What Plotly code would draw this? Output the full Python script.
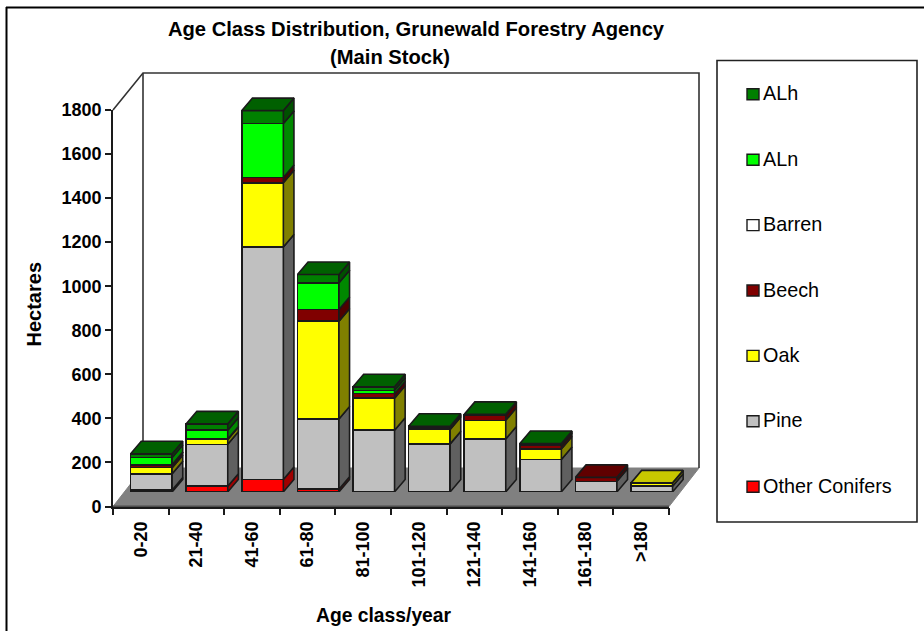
import plotly.graph_objects as go

W, H = 924, 631
# data
categories = ["0-20", "21-40", "41-60", "61-80", "81-100", "101-120", "121-140", "141-160", "161-180", ">180"]
other_conifers = [8, 26, 56, 12, 0, 0, 0, 0, 0, 0]
pine = [74, 190, 1056, 319, 280, 218, 240, 147, 48, 26]
oak = [28, 22, 291, 444, 145, 65, 85, 48, 0, 15]
beech = [12, 2, 24, 53, 21, 5, 24, 15, 18, 0]
barren = [2, 0, 0, 0, 0, 0, 0, 0, 0, 0]
aln = [32, 40, 245, 121, 15, 3, 0, 3, 0, 0]
alh = [17, 29, 59, 38, 16, 7, 3, 7, 0, 0]
y_ticks = [0, 200, 400, 600, 800, 1000, 1200, 1400, 1600, 1800]

series = [
    ("Other Conifers", other_conifers, "#ff0000", "#a00000", "#c00000"),
    ("Pine", pine, "#c0c0c0", "#606060", "#909090"),
    ("Oak", oak, "#ffff00", "#808000", "#c8c800"),
    ("Beech", beech, "#800000", "#500000", "#600000"),
    ("Barren", barren, "#ffffff", "#808080", "#c0c0c0"),
    ("ALn", aln, "#00ff00", "#008800", "#00c000"),
    ("ALh", alh, "#008000", "#005000", "#006000"),
]
legend_order = ["ALh", "ALn", "Barren", "Beech", "Oak", "Pine", "Other Conifers"]

# pixel geometry of the frame
AX_L, AX_R, AX_B, AX_T = 113, 669, 506.5, 110
PX_PER_CAT = (AX_R - AX_L) / 10
PX_PER_UNIT = (AX_B - AX_T) / 1800
SHIFT_X, SHIFT_Y = 10.6, 14.6       # bars stand this far back on the floor
BAR_W = 41.5 / PX_PER_CAT
BAR_DX, BAR_DY = 10.6 / PX_PER_CAT, 12.5 / PX_PER_UNIT
WALL_PX_DX, WALL_PX_DY = 30, 38.5
WALL_TOP = 73
INK = "#1a1a1a"
LW = 1.6
Y2MAX = 2000
X2MAX = 11

def px_x(p): return p / W
def px_y(p): return 1 - p / H
def pt(x, y): return f"{px_x(x)},{px_y(y)}"

fig = go.Figure()

# baseline on the visible axes, so that they are drawn
fig.add_trace(go.Scatter(x=[0, 10], y=[0, 0], mode="lines", line=dict(color=INK, width=LW),
                         showlegend=False, hoverinfo="skip", cliponaxis=False))

centers = [i + 0.5 for i in range(len(categories))]
cum = [0.0] * len(categories)
tops = [None] * len(categories)
for name, vals, front, side, top in series:
    fig.add_trace(go.Bar(x=centers, y=vals, name=name, width=BAR_W, xaxis="x2", yaxis="y2",
                         marker=dict(color=front, line=dict(color=INK, width=LW)), showlegend=False))
    sx, sy = [], []
    for i, v in enumerate(vals):
        if v <= 0:
            continue
        xr = centers[i] + BAR_W / 2
        c0, c1 = cum[i], cum[i] + v
        sx += [xr, xr, xr + BAR_DX, xr + BAR_DX, xr, None]
        sy += [c0, c1, c1 + BAR_DY, c0 + BAR_DY, c0, None]
        cum[i] = c1
        tops[i] = top
    if sx:
        fig.add_trace(go.Scatter(x=sx, y=sy, mode="lines", fill="toself", fillcolor=side,
                                 line=dict(color=INK, width=LW), xaxis="x2", yaxis="y2",
                                 showlegend=False, hoverinfo="skip"))

for top_color in sorted(set(tops)):
    tx, ty = [], []
    for i, t in enumerate(tops):
        if t != top_color:
            continue
        xl, xr = centers[i] - BAR_W / 2, centers[i] + BAR_W / 2
        tx += [xl, xr, xr + BAR_DX, xl + BAR_DX, xl, None]
        ty += [cum[i], cum[i], cum[i] + BAR_DY, cum[i] + BAR_DY, cum[i], None]
    fig.add_trace(go.Scatter(x=tx, y=ty, mode="lines", fill="toself", fillcolor=top_color,
                             line=dict(color=INK, width=LW), xaxis="x2", yaxis="y2",
                             showlegend=False, hoverinfo="skip"))

TXT = dict(family="Liberation Sans", color="#000000")
FLOOR_Y = AX_B - WALL_PX_DY
WL, WR = AX_L + WALL_PX_DX, AX_R + WALL_PX_DX
shapes = [
    # outer chart border (top and left only are in frame)
    dict(type="line", xref="paper", yref="paper", x0=px_x(6), x1=1, y0=px_y(7.5), y1=px_y(7.5),
         line=dict(color="#000000", width=2)),
    dict(type="line", xref="paper", yref="paper", x0=px_x(6.5), x1=px_x(6.5), y0=px_y(7), y1=0,
         line=dict(color="#000000", width=2)),
    # floor
    dict(type="path", xref="paper", yref="paper", layer="below", fillcolor="#808080",
         line=dict(color="#808080", width=1),
         path=f"M{pt(AX_L, AX_B)} L{pt(AX_R, AX_B)} L{pt(WR, FLOOR_Y)} L{pt(WL, FLOOR_Y)} Z"),
    # walls
    dict(type="path", xref="paper", yref="paper", layer="below", line=dict(color="#333333", width=LW),
         path=f"M{pt(AX_L, AX_T)} L{pt(WL, WALL_TOP)} L{pt(WR, WALL_TOP)} L{pt(WR, FLOOR_Y)}"),
    dict(type="path", xref="paper", yref="paper", layer="below", line=dict(color="#333333", width=LW),
         path=f"M{pt(WL, FLOOR_Y)} L{pt(WL, WALL_TOP)}"),
    # legend box
    dict(type="rect", xref="paper", yref="paper", x0=px_x(717), x1=px_x(917), y0=px_y(522), y1=px_y(60.5),
         fillcolor="#ffffff", line=dict(color="#222222", width=1.6)),
]

annotations = [
    dict(text="<b>(Main Stock)</b>", xref="paper", yref="paper", x=px_x(390), y=px_y(57),
         xanchor="center", yanchor="middle", showarrow=False, font=dict(TXT, size=20.2)),
    dict(text="<b>Age class/year</b>", xref="paper", yref="paper", x=px_x(383.5), y=px_y(615),
         xanchor="center", yanchor="middle", showarrow=False, font=dict(TXT, size=19.3)),
    dict(text="<b>Hectares</b>", xref="paper", yref="paper", x=px_x(33), y=px_y(304.5), textangle=-90,
         xanchor="center", yanchor="middle", showarrow=False, font=dict(TXT, size=20)),
]
colors = {s[0]: s[2] for s in series}
for k, name in enumerate(legend_order):
    cy = 94.3 + 65.4 * k
    shapes.append(dict(type="rect", xref="paper", yref="paper", x0=px_x(747), x1=px_x(759),
                       y0=px_y(cy + 5.5), y1=px_y(cy - 5.5), fillcolor=colors[name],
                       line=dict(color="#1a1a1a", width=1.4)))
    annotations.append(dict(text=name, xref="paper", yref="paper", x=px_x(760.5), y=px_y(cy - 1),
                            xanchor="left", yanchor="middle", showarrow=False,
                            font=dict(TXT, size=19.8)))

fig.update_layout(
    width=W, height=H, margin=dict(l=0, r=0, t=0, b=0, pad=0), autosize=False,
    paper_bgcolor="#ffffff", plot_bgcolor="rgba(0,0,0,0)", barmode="stack", showlegend=False,
    title=dict(text="<b>Age Class Distribution, Grunewald Forestry Agency</b>",
               x=px_x(416), xanchor="center", y=px_y(29), yanchor="middle", automargin=False,
               font=dict(TXT, size=20.2)),
    font=TXT,
    xaxis=dict(domain=[px_x(AX_L), px_x(AX_R)], range=[0, 10], tickmode="array", tickvals=centers,
               ticktext=[f"<b>{c}</b>" for c in categories], tickangle=-90, ticks="", showgrid=False,
               zeroline=False, showline=True, linecolor=INK, linewidth=LW, tickfont=dict(TXT, size=18),
               ticklabelstandoff=6, automargin=False,
               minor=dict(tickmode="array", tickvals=list(range(11)), ticks="outside", ticklen=7,
                          tickcolor=INK, tickwidth=LW, showgrid=False)),
    yaxis=dict(domain=[px_y(AX_B), px_y(AX_T)], range=[0, 1800], tickmode="array", tickvals=y_ticks,
               ticktext=[f"<b>{v}</b>" for v in y_ticks], ticks="outside", ticklen=6, tickcolor=INK,
               tickwidth=LW, showgrid=False, zeroline=False, showline=True, linecolor=INK, linewidth=LW,
               tickfont=dict(TXT, size=18), automargin=False),
    xaxis2=dict(domain=[px_x(AX_L + SHIFT_X), px_x(AX_L + SHIFT_X + X2MAX * PX_PER_CAT)], range=[0, X2MAX],
                visible=False, anchor="y2"),
    yaxis2=dict(domain=[px_y(AX_B - SHIFT_Y), px_y(AX_B - SHIFT_Y - Y2MAX * PX_PER_UNIT)],
                range=[0, Y2MAX], visible=False, anchor="x2"),
    shapes=shapes, annotations=annotations,
)

fig.write_html("out.html", config={"displayModeBar": False},
               post_script="document.body.style.margin='0';document.body.style.overflow='hidden';")
